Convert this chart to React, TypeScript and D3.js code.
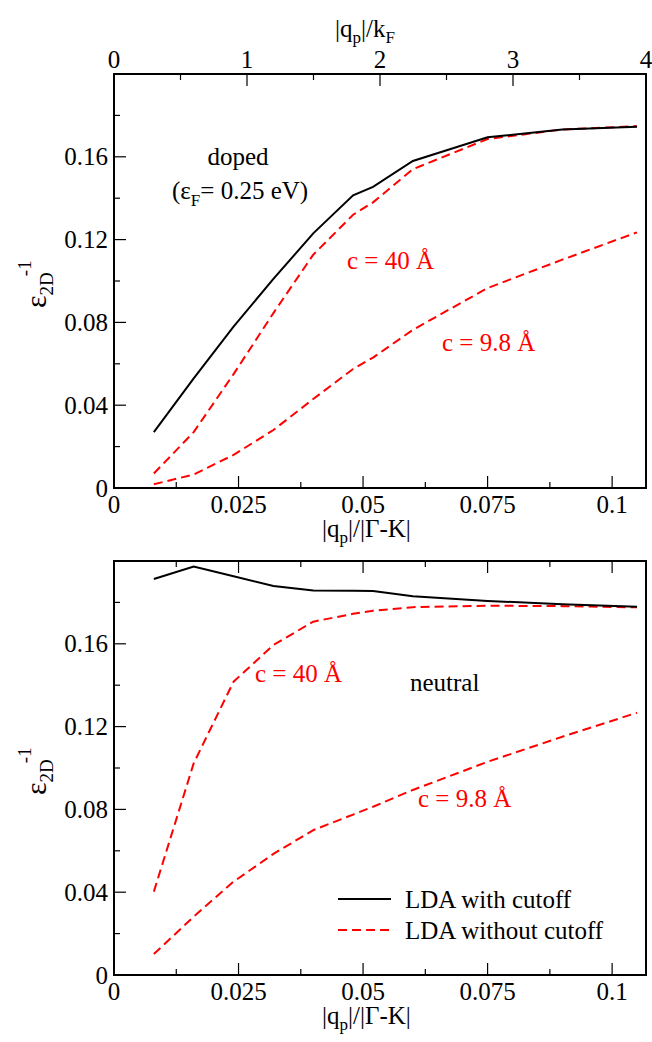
import * as d3 from 'd3'

// momentum transfer |q_p|/|Γ-K|, shared by all curves
const qx = [0.008, 0.016, 0.024, 0.032, 0.040, 0.048, 0.052, 0.060, 0.075, 0.090, 0.105]

// doped (eF = 0.25 eV)
const dopedCutoff = [0.027, 0.053, 0.078, 0.101, 0.123, 0.1414, 0.1455, 0.158, 0.1694, 0.1732, 0.1745]
const doped40 = [0.007, 0.027, 0.055, 0.0845, 0.1127, 0.132, 0.138, 0.154, 0.1686, 0.1732, 0.1748]
const doped98 = [0.0018, 0.0065, 0.016, 0.028, 0.043, 0.0575, 0.063, 0.0764, 0.0966, 0.1103, 0.1235]

// neutral
const neutralCutoff = [0.1913, 0.1973, 0.1926, 0.1879, 0.1857, 0.1856, 0.1855, 0.183, 0.1807, 0.1791, 0.1779]
const neutral40 = [0.0403, 0.1023, 0.1417, 0.1594, 0.1707, 0.1745, 0.176, 0.1777, 0.1784, 0.1782, 0.1776]
const neutral98 = [0.0101, 0.0282, 0.0451, 0.0585, 0.070, 0.0775, 0.0813, 0.0894, 0.103, 0.1151, 0.1267]

const xMajor = [0, 0.025, 0.05, 0.075, 0.1]
const xMinor = [0.0125, 0.0375, 0.0625, 0.0875]
const xLabels = ['0', '0.025', '0.05', '0.075', '0.1']
const yMajor = [0, 0.04, 0.08, 0.12, 0.16, 0.2]
const yMinor = [0.02, 0.06, 0.1, 0.14, 0.18]
const yLabels = ['0', '0.04', '0.08', '0.12', '0.16', '']
const kfMajor = [0, 1, 2, 3, 4]
const kfMinor = [0.5, 1.5, 2.5, 3.5]

const FONT = "'Liberation Serif', 'DejaVu Serif', serif"
const RED = '#ff0000'
const LEFT = 114
const RIGHT = 646

const x = d3.scaleLinear().domain([0, 0.1068]).range([LEFT, RIGHT])
const xkf = d3.scaleLinear().domain([0, 4]).range([LEFT, RIGHT])

function Panel({ top, bottom, series, topKf }) {
  const y = d3.scaleLinear().domain([0, 0.2]).range([bottom, top])
  const line = d3.line<number>().x((d, i) => x(qx[i])).y(d => y(d))
  const maj = 12
  const min = 6
  return (
    <g>
      {series.map((s, i) => (
        <path key={i} d={line(s.values) || ''} fill="none" stroke={s.color} strokeWidth={2}
          strokeDasharray={s.dash ? '9,5' : undefined} />
      ))}
      <rect x={LEFT} y={top} width={RIGHT - LEFT} height={bottom - top} fill="none" stroke="#000" strokeWidth={2} />
      {/* bottom axis ticks */}
      {xMajor.map((t, i) => (
        <g key={'xb' + i}>
          <line x1={x(t)} x2={x(t)} y1={bottom} y2={bottom - maj} stroke="#000" strokeWidth={1.2} />
          <text x={x(t)} y={bottom + 25} textAnchor="middle" fontSize={25} fontFamily={FONT}>{xLabels[i]}</text>
        </g>
      ))}
      {xMinor.map((t, i) => (
        <line key={'xbm' + i} x1={x(t)} x2={x(t)} y1={bottom} y2={bottom - min} stroke="#000" strokeWidth={1.2} />
      ))}
      {/* top axis ticks */}
      {topKf ? (
        <g>
          {kfMajor.map((t, i) => (
            <g key={'kf' + i}>
              <line x1={xkf(t)} x2={xkf(t)} y1={top} y2={top + maj} stroke="#000" strokeWidth={1.2} />
              <text x={xkf(t)} y={top - 6} textAnchor="middle" fontSize={25} fontFamily={FONT}>{t}</text>
            </g>
          ))}
          {kfMinor.map((t, i) => (
            <line key={'kfm' + i} x1={xkf(t)} x2={xkf(t)} y1={top} y2={top + min} stroke="#000" strokeWidth={1.2} />
          ))}
        </g>
      ) : (
        <g>
          {xMajor.map((t, i) => (
            <line key={'xt' + i} x1={x(t)} x2={x(t)} y1={top} y2={top + maj} stroke="#000" strokeWidth={1.2} />
          ))}
          {xMinor.map((t, i) => (
            <line key={'xtm' + i} x1={x(t)} x2={x(t)} y1={top} y2={top + min} stroke="#000" strokeWidth={1.2} />
          ))}
        </g>
      )}
      {/* left axis ticks */}
      {yMajor.map((t, i) => (
        <g key={'y' + i}>
          <line x1={LEFT} x2={LEFT + maj} y1={y(t)} y2={y(t)} stroke="#000" strokeWidth={1.2} />
          <text x={LEFT - 6} y={y(t) + 8.5} textAnchor="end" fontSize={25} fontFamily={FONT}>{yLabels[i]}</text>
        </g>
      ))}
      {yMinor.map((t, i) => (
        <line key={'ym' + i} x1={LEFT} x2={LEFT + min} y1={y(t)} y2={y(t)} stroke="#000" strokeWidth={1.2} />
      ))}
      {/* y axis title */}
      <text transform={`translate(46,${(top + bottom) / 2 + 27}) rotate(-90)`} fontSize={30} fontFamily={FONT}>
        ε<tspan fontSize={19} dy={7}>2D</tspan><tspan fontSize={19} dy={-22} dx={-4}>-1</tspan>
      </text>
      {/* x axis title */}
      <text x={322} y={bottom + 49} fontSize={25} fontFamily={FONT}>
        |q<tspan fontSize={17} dy={6}>p</tspan><tspan dy={-6}>|/|Γ-K|</tspan>
      </text>
    </g>
  )
}

export default function App() {
  const T = { top: 74, bottom: 488 }
  const B = { top: 561, bottom: 975 }
  return (
    <svg width={652} height={1042}
      style={{ position: 'absolute', left: 0, top: 0, background: '#fff' }}>
      <rect width={652} height={1042} fill="#fff" />
      <Panel top={T.top} bottom={T.bottom} topKf
        series={[
          { values: doped98, color: RED, dash: true },
          { values: doped40, color: RED, dash: true },
          { values: dopedCutoff, color: '#000', dash: false },
        ]} />
      <Panel top={B.top} bottom={B.bottom} topKf={false}
        series={[
          { values: neutral98, color: RED, dash: true },
          { values: neutral40, color: RED, dash: true },
          { values: neutralCutoff, color: '#000', dash: false },
        ]} />

      <g fontFamily={FONT} fontSize={25}>
        {/* top axis title */}
        <text x={335} y={37}>
          |q<tspan fontSize={17} dy={6}>p</tspan><tspan dy={-6}>|/k</tspan><tspan fontSize={17} dy={6}>F</tspan>
        </text>

        {/* top panel annotations */}
        <text x={238} y={165} textAnchor="middle">doped</text>
        <text x={172} y={199}>
          (ε<tspan fontSize={17} dy={7}>F</tspan><tspan dy={-7}>= 0.25 eV)</tspan>
        </text>
        <text x={347} y={269} fill={RED}>c = 40 Å</text>
        <text x={442} y={351} fill={RED}>c = 9.8 Å</text>

        {/* bottom panel annotations */}
        <text x={255} y={682} fill={RED}>c = 40 Å</text>
        <text x={410} y={691}>neutral</text>
        <text x={418} y={807} fill={RED}>c = 9.8 Å</text>

        {/* legend */}
        <line x1={338} x2={391} y1={899} y2={899} stroke="#000" strokeWidth={2} />
        <text x={405} y={908}>LDA with cutoff</text>
        <line x1={338} x2={391} y1={930} y2={930} stroke={RED} strokeWidth={2} strokeDasharray="9,5" />
        <text x={405} y={939}>LDA without cutoff</text>
      </g>
    </svg>
  )
}
